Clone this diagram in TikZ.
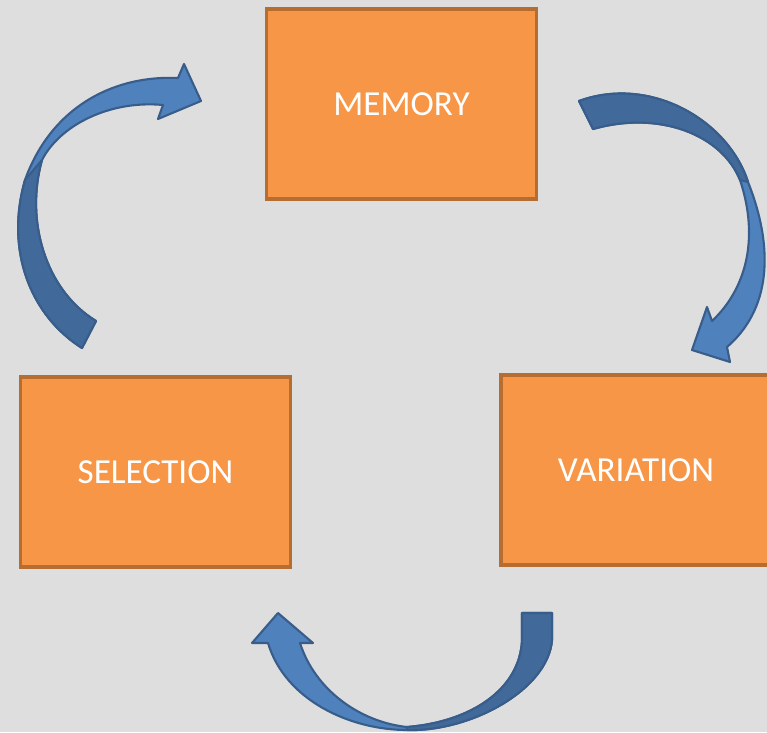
\documentclass[tikz,border=0pt]{standalone}
\usepackage{fontspec}
\setmainfont{Carlito}
\definecolor{bg}{HTML}{DEDEDE}
\definecolor{boxfill}{HTML}{F79646}
\definecolor{boxline}{HTML}{B66D31}
\definecolor{arrlight}{HTML}{4F81BD}
\definecolor{arrdark}{HTML}{41699A}
\definecolor{arrline}{HTML}{385D8A}
\tikzset{
  stagebox/.style={draw=boxline, fill=boxfill, line width=2.6pt, minimum width=8.1cm, minimum height=5.7cm, inner sep=0pt, text=white, font=\fontsize{30}{36}\selectfont},
  arrbody/.style={fill=arrlight, draw=arrline, line width=1.8pt, line join=round},
  arrshade/.style={fill=arrdark, draw=arrline, line width=1.8pt, line join=round}
}
\begin{document}
\begin{tikzpicture}[x=0.03cm, y=-0.03cm]
\fill[bg] (0,0) rectangle (767,732);
\useasboundingbox (0,0) rectangle (767,732);

\node[stagebox] (memory) at (401.5,104) {MEMORY};
\node[stagebox] (selection) at (155.5,472) {SELECTION};
\node[stagebox] (variation) at (636,470) {VARIATION};

% left arrow: selection -> memory
\path[arrbody] (82,348) .. controls (30,315) and (5,250) .. (25,180)
  .. controls (50,110) and (110,75) .. (178,78) -- (184,64) -- (201,101) -- (158,119) -- (163,105)
  .. controls (110,100) and (60,125) .. (42,160)
  .. controls (25,220) and (45,290) .. (96,321) -- cycle;
\path[arrshade] (82,348) .. controls (30,315) and (5,250) .. (25,180)
  -- (42,160) .. controls (25,220) and (45,290) .. (96,321) -- cycle;

% right arrow: memory -> variation
\path[arrbody] (579,101) .. controls (650,75) and (728,120) .. (748,182)
  .. controls (775,250) and (770,310) .. (727,347) -- (730,362) -- (692,350) -- (707,307) -- (712,321)
  .. controls (745,290) and (760,240) .. (740,180)
  .. controls (722,135) and (660,110) .. (593,129) -- cycle;
\path[arrshade] (579,101) .. controls (650,75) and (728,120) .. (748,182)
  -- (740,180) .. controls (722,135) and (660,110) .. (593,129) -- cycle;

% bottom arrow: variation -> selection
\path[arrbody] (552,613) -- (552,640) .. controls (548,690) and (470,732) .. (407,730)
  .. controls (350,730) and (285,700) .. (268,643) -- (252,643) -- (278,613) -- (313,643) -- (300,643)
  .. controls (315,690) and (360,722) .. (407,727)
  .. controls (470,722) and (520,690) .. (522,640) -- (522,613) -- cycle;
\path[arrshade] (552,613) -- (552,640) .. controls (548,690) and (470,732) .. (407,730)
  -- (407,727) .. controls (470,722) and (520,690) .. (522,640) -- (522,613) -- cycle;
\end{tikzpicture}
\end{document}
